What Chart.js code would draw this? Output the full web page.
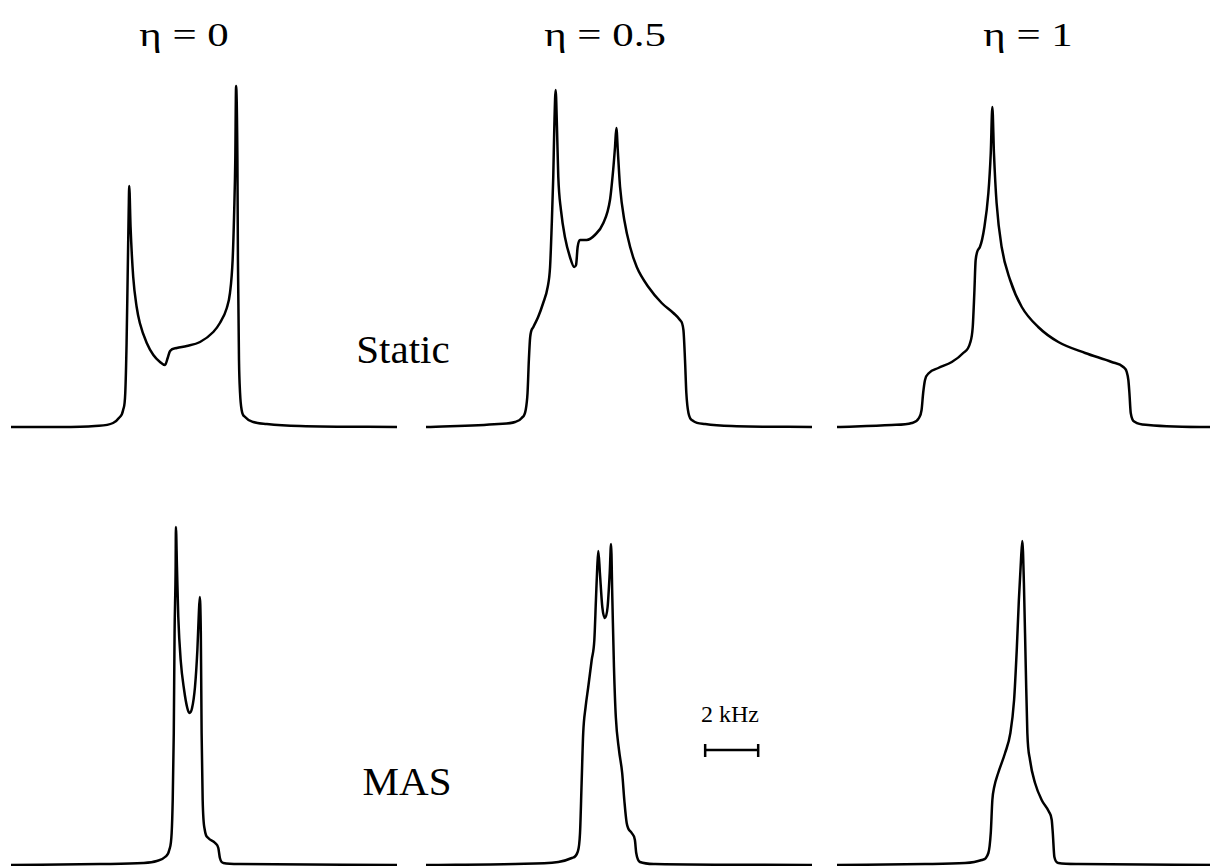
<!DOCTYPE html>
<html>
<head>
<meta charset="utf-8">
<script src="https://cdn.jsdelivr.net/npm/chart.js@4.4.1/dist/chart.umd.min.js"></script>
<style>
html,body{margin:0;padding:0;background:#fff;width:1210px;height:866px;overflow:hidden}
body{position:relative;font-family:"Liberation Serif","Times New Roman",serif;color:#000}
.panel{position:absolute;width:386px}
.lbl{position:absolute;line-height:1;white-space:nowrap;transform:translateX(-50%)}
.eta{font-size:33px;transform:translateX(-50%) scaleX(1.3)}
</style>
</head>
<body>
<div class="lbl eta" style="left:184px;top:19px">η = 0</div>
<div class="lbl eta" style="left:605px;top:19px">η = 0.5</div>
<div class="lbl eta" style="left:1028px;top:19px">η = 1</div>
<div class="lbl" style="left:403px;top:329px;font-size:41px">Static</div>
<div class="lbl" style="left:407px;top:761px;font-size:41px">MAS</div>
<div class="lbl" style="left:730px;top:702px;font-size:24px">2 kHz</div>

<div class="panel" style="left:11px;top:60px;height:372px"><canvas id="s0"></canvas></div>
<div class="panel" style="left:426px;top:60px;height:372px"><canvas id="s05"></canvas></div>
<div class="panel" style="left:837px;top:60px;height:372px"><canvas id="s1"></canvas></div>
<div class="panel" style="left:11px;top:500px;height:370px"><canvas id="m0"></canvas></div>
<div class="panel" style="left:426px;top:500px;height:370px"><canvas id="m05"></canvas></div>
<div class="panel" style="left:837px;top:500px;height:370px"><canvas id="m1"></canvas></div>

<script>
// frequency offsets (kHz) and intensities (a.u.)
const staticEta0Khz=[-7.28,-5.43,-4.11,-3.43,-3.21,-3.05,-2.97,-2.92,-2.88,-2.84,-2.82,-2.77,-2.67,-2.54,-2.42,-2.16,-1.91,-1.66,-1.47,-1.37,-1.28,-1.03,-0.65,-0.15,0.35,0.60,0.86,0.98,1.08,1.14,1.18,1.21,1.26,1.28,1.32,1.36,1.42,1.55,1.86,2.37,3.62,7.28];
const staticEta0Int=[0,0,1,4,9,17,34,84,150,217,241,200,150,120,104,84,72,65,62,69,76,79,81,85,95,104,119,134,167,217,267,341,267,167,67,34,17,10,5,3,1,0];

const staticEta05Khz=[-7.28,-4.55,-3.92,-3.67,-3.52,-3.45,-3.40,-3.35,-3.23,-3.05,-2.86,-2.69,-2.60,-2.54,-2.48,-2.44,-2.39,-2.34,-2.29,-2.19,-2.04,-1.85,-1.69,-1.62,-1.56,-1.47,-1.22,-0.91,-0.59,-0.34,-0.22,-0.15,-0.10,-0.04,0.04,0.20,0.42,0.67,1.11,1.61,2.05,2.30,2.43,2.49,2.54,2.62,2.80,3.25,4.25,7.28];
const staticEta05Int=[0,3,5,9,17,34,67,90,100,110,124,140,160,200,250,300,337,300,250,217,190,170,160,162,180,187,187,192,204,227,257,280,299,274,240,207,180,160,140,124,114,107,97,67,34,14,6,3,1,0];

const staticEta1Khz=[-7.28,-5.22,-4.46,-4.19,-4.09,-4.03,-3.96,-3.81,-3.46,-2.95,-2.52,-2.26,-2.16,-2.10,-2.05,-1.89,-1.72,-1.57,-1.48,-1.42,-1.36,-1.26,-1.07,-0.75,-0.31,0.31,1.07,2.08,3.08,3.52,3.65,3.71,3.75,3.80,3.96,4.46,6.79,7.28];
const staticEta1Int=[0,2,4,9,17,34,47,54,59,65,74,84,100,134,167,180,200,234,274,320,274,224,180,147,120,100,85,74,65,60,55,47,34,14,5,2,0,0];

const masEta0Khz=[-7.28,-3.92,-2.29,-1.78,-1.47,-1.31,-1.22,-1.18,-1.14,-1.11,-1.07,-1.06,-1.02,-0.97,-0.88,-0.75,-0.63,-0.55,-0.45,-0.34,-0.25,-0.20,-0.16,-0.12,-0.09,-0.05,0.03,0.16,0.42,0.54,0.60,0.73,1.36,7.28];
const masEta0Int=[0,1,2,4,8,15,32,65,132,232,298,338,298,248,205,175,157,152,157,178,215,248,268,232,132,65,35,27,22,17,7,2,1,0];

const masEta05Khz=[-7.28,-3.92,-2.29,-1.78,-1.56,-1.47,-1.41,-1.35,-1.26,-1.16,-1.03,-0.93,-0.87,-0.82,-0.78,-0.72,-0.63,-0.53,-0.43,-0.35,-0.30,-0.25,-0.19,-0.12,0.00,0.12,0.20,0.29,0.48,0.60,0.65,0.79,1.36,7.28];
const masEta05Int=[0,1,3,7,13,32,82,132,158,178,205,225,265,298,314,292,258,247,258,292,321,265,198,148,115,92,65,42,32,25,12,3,1,0];

const masEta1Khz=[-7.28,-3.96,-2.45,-1.82,-1.57,-1.48,-1.42,-1.35,-1.20,-0.94,-0.74,-0.60,-0.50,-0.42,-0.34,-0.29,-0.23,-0.16,-0.10,0.00,0.19,0.44,0.72,0.82,0.86,0.92,1.07,1.82,7.28];
const masEta1Int=[0,1,2,5,12,32,65,78,92,112,132,165,215,265,305,324,282,198,132,105,82,65,53,45,32,8,2,1,0];

// 2 kHz scale bar, drawn on the MAS eta=0.5 axes
const scaleBarKhz=[3.25,5.25];
const scaleBarLevel=115;
const scaleBarTick=[108,121];

(function(){
 const pts=(xs,ys)=>xs.map((x,i)=>({x,y:ys[i]}));
 const line=(data,extra)=>Object.assign({data,borderColor:'#000',borderWidth:2.5,pointRadius:0,fill:false,cubicInterpolationMode:'monotone'},extra||{});
 const draw=(id,top,sets)=>new Chart(document.getElementById(id),{type:'line',data:{datasets:sets},
   options:{responsive:true,maintainAspectRatio:false,animation:false,events:[],layout:{padding:0},
   plugins:{legend:{display:false},tooltip:{enabled:false}},
   scales:{x:{type:'linear',min:-7.28,max:7.28,display:false},y:{min:-5,max:top,display:false}}}});
 draw('s0',367,[line(pts(staticEta0Khz,staticEta0Int))]);
 draw('s05',367,[line(pts(staticEta05Khz,staticEta05Int))]);
 draw('s1',367,[line(pts(staticEta1Khz,staticEta1Int))]);
 draw('m0',365,[line(pts(masEta0Khz,masEta0Int))]);
 const bar={cubicInterpolationMode:'default',tension:0,borderCapStyle:'butt'};
 draw('m05',365,[line(pts(masEta05Khz,masEta05Int)),
   line(scaleBarKhz.map(x=>({x,y:scaleBarLevel})),bar),
   line(scaleBarTick.map(y=>({x:scaleBarKhz[0],y})),bar),
   line(scaleBarTick.map(y=>({x:scaleBarKhz[1],y})),bar)]);
 draw('m1',365,[line(pts(masEta1Khz,masEta1Int))]);
})();
</script>
</body>
</html>
